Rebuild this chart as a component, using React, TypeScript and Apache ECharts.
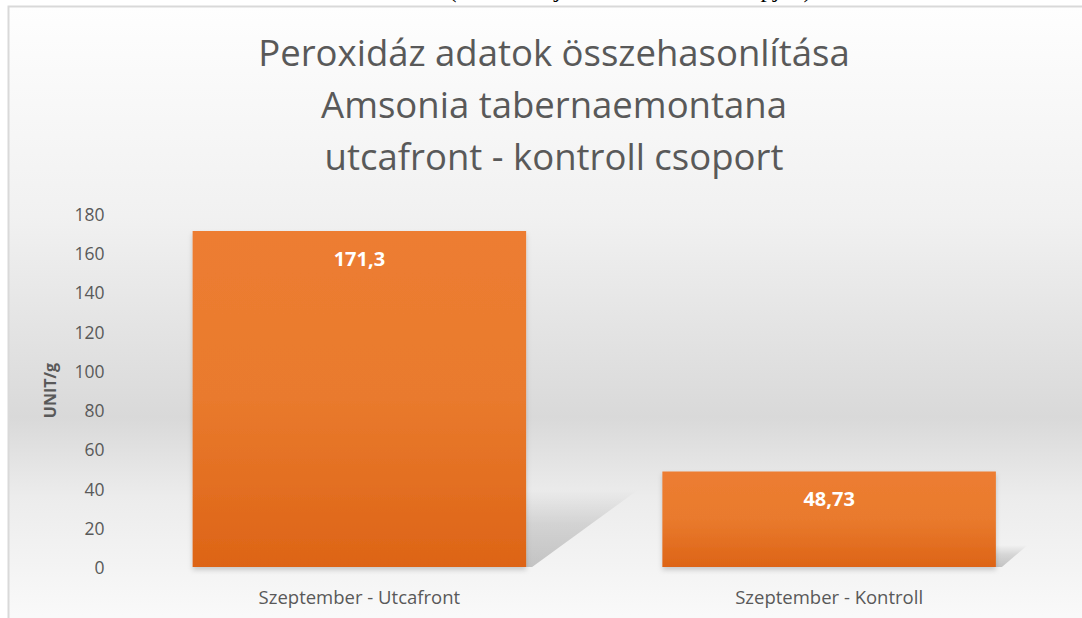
import React, { useEffect, useRef } from "react";
import * as echarts from "echarts";

const titleLines = [
  "Peroxidáz adatok összehasonlítása",
  "Amsonia tabernaemontana",
  "utcafront - kontroll csoport",
];
const categories = ["Szeptember - Utcafront", "Szeptember - Kontroll"];
const values = [171.3, 48.73];
const yTicks = { min: 0, max: 180, interval: 20 };
const yName = "UNIT/g";
const topNote = "(Forrás: saját mérési adatok alapján)";

const FONT = "'Open Sans'";

export default function App() {
  const ref = useRef<HTMLDivElement>(null);
  useEffect(() => {
    if (!ref.current) return;
    const chart = echarts.init(ref.current, undefined, { renderer: "svg" });
    const barRatio = 0.71;
    chart.setOption({
      animation: false,
      backgroundColor: "#ffffff",
      graphic: [
        {
          type: "rect",
          z: -10,
          shape: { x: 8.5, y: 6.5, width: 1200, height: 700 },
          style: {
            fill: new echarts.graphic.LinearGradient(0, 0, 0, 1, [
              { offset: 0, color: "#fefefe" },
              { offset: 0.3, color: "#f1f1f1" },
              { offset: 0.587, color: "#d9d9d9" },
              { offset: 0.7, color: "#ececec" },
              { offset: 0.87, color: "#f9f9f9" },
              { offset: 1, color: "#fbfbfb" },
            ]),
            stroke: "#d9d9d9",
            lineWidth: 2,
          },
          silent: true,
        },
        {
          type: "text",
          z: -5,
          x: 630,
          y: 1,
          style: {
            text: topNote,
            font: "25px 'Liberation Serif'",
            fill: "#000000",
            align: "center",
            verticalAlign: "bottom",
          },
          silent: true,
        },
      ],
      title: {
        text: titleLines.join("\n"),
        left: 549,
        textAlign: "center",
        top: 21,
        textStyle: {
          fontFamily: FONT,
          fontSize: 36.5,
          fontWeight: "normal",
          color: "#595959",
          lineHeight: 52,
        },
      },
      grid: { left: 124.5, right: 18, top: 214, bottom: 51, containLabel: false },
      xAxis: {
        type: "category",
        data: categories,
        axisLine: { show: false },
        axisTick: { show: false },
        axisLabel: {
          fontFamily: FONT,
          fontSize: 18.5,
          color: "#595959",
          margin: 20,
        },
      },
      yAxis: {
        type: "value",
        min: yTicks.min,
        max: yTicks.max,
        interval: yTicks.interval,
        name: yName,
        nameLocation: "middle",
        nameGap: 67,
        nameTextStyle: {
          fontFamily: FONT,
          fontSize: 16,
          fontWeight: "bold",
          color: "#595959",
        },
        axisLine: { show: false },
        axisTick: { show: false },
        splitLine: { show: false },
        axisLabel: {
          fontFamily: FONT,
          fontSize: 17.5,
          color: "#595959",
          margin: 20,
        },
      },
      series: [
        {
          type: "custom",
          z: 1,
          silent: true,
          data: values.map((v, i) => [i, v]),
          renderItem: (params: any, api: any) => {
            const idx = api.value(0);
            const v = api.value(1);
            const bottom = api.coord([idx, 0]);
            const top = api.coord([idx, v]);
            const bw = api.size([1, 0])[0] * barRatio;
            const left = bottom[0] - bw / 2;
            const right = bottom[0] + bw / 2;
            const h = bottom[1] - top[1];
            const sh = h * 0.23;
            const skew = sh * 1.45;
            return {
              type: "polygon",
              shape: {
                points: [
                  [left, bottom[1]],
                  [right + 6, bottom[1]],
                  [right + skew, bottom[1] - sh],
                  [left + skew, bottom[1] - sh],
                ],
              },
              style: {
                fill: new echarts.graphic.LinearGradient(0, 0, 0, 1, [
                  { offset: 0, color: "rgba(0,0,0,0)" },
                  { offset: 0.45, color: "rgba(0,0,0,0.12)" },
                  { offset: 1, color: "rgba(0,0,0,0.2)" },
                ]),
              },
            };
          },
        },
        {
          type: "bar",
          z: 2,
          data: values,
          barWidth: barRatio * 100 + "%",
          itemStyle: {
            color: new echarts.graphic.LinearGradient(0, 0, 0, 1, [
              { offset: 0, color: "#ed7d31" },
              { offset: 0.5, color: "#e97a2d" },
              { offset: 1, color: "#dd6416" },
            ]),
            shadowBlur: 5,
            shadowColor: "rgba(0,0,0,0.18)",
            shadowOffsetY: 3,
          },
          label: {
            show: true,
            position: "insideTop",
            distance: 17,
            fontFamily: FONT,
            fontSize: 20,
            fontWeight: "bold",
            color: "#ffffff",
            formatter: (p: any) => String(p.value).replace(".", ","),
          },
        },
      ],
    });
    return () => chart.dispose();
  }, []);
  return (
    <div
      ref={ref}
      style={{ position: "fixed", left: 0, top: 0, width: 1082, height: 618 }}
    />
  );
}
